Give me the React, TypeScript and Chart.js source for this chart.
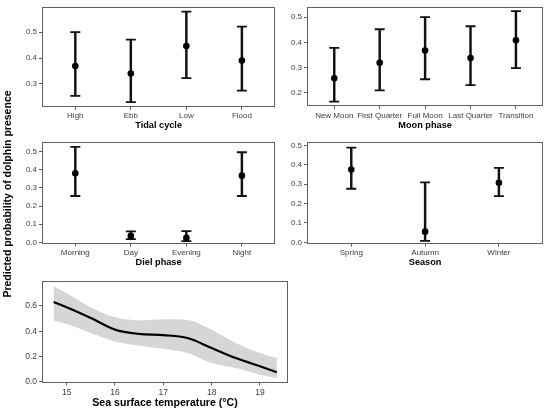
import React, { useEffect, useRef } from "react";
import { Chart, registerables } from "chart.js";

Chart.register(...registerables);

const FONT = "'Liberation Sans', Arial, Helvetica, sans-serif";

// ---------- Data ----------
const tidalCats = ["High", "Ebb", "Low", "Flood"];
const tidalMean = [0.369, 0.34, 0.446, 0.39];
const tidalLow = [0.254, 0.23, 0.322, 0.274];
const tidalHigh = [0.5, 0.471, 0.579, 0.521];
const tidalTicks = [0.3, 0.4, 0.5];

const moonCats = ["New Moon", "First Quarter", "Full Moon", "Last Quarter", "Transition"];
const moonMean = [0.258, 0.319, 0.368, 0.338, 0.408];
const moonLow = [0.165, 0.21, 0.254, 0.231, 0.298];
const moonHigh = [0.378, 0.452, 0.5, 0.464, 0.524];
const moonTicks = [0.2, 0.3, 0.4, 0.5];

const dielCats = ["Morning", "Day", "Evening", "Night"];
const dielMean = [0.381, 0.036, 0.025, 0.368];
const dielLow = [0.256, 0.018, 0.007, 0.256];
const dielHigh = [0.527, 0.061, 0.062, 0.497];
const dielTicks = [0.0, 0.1, 0.2, 0.3, 0.4, 0.5];

const seasonCats = ["Spring", "Autumn", "Winter"];
const seasonMean = [0.375, 0.055, 0.307];
const seasonLow = [0.276, 0.008, 0.238];
const seasonHigh = [0.488, 0.309, 0.384];
const seasonTicks = [0.0, 0.1, 0.2, 0.3, 0.4, 0.5];

const sstX = [14.73, 15.0, 15.5, 16.0, 16.5, 17.0, 17.5, 18.0, 18.5, 19.0, 19.35];
const sstFit = [0.631, 0.59, 0.505, 0.413, 0.379, 0.37, 0.347, 0.268, 0.189, 0.124, 0.077];
const sstUpper = [0.755, 0.7, 0.59, 0.51, 0.486, 0.495, 0.49, 0.413, 0.308, 0.229, 0.189];
const sstLower = [0.484, 0.458, 0.387, 0.32, 0.287, 0.262, 0.229, 0.15, 0.11, 0.058, 0.032];
const sstXTicks = [15, 16, 17, 18, 19];
const sstYTicks = [0.0, 0.2, 0.4, 0.6];

const yAxisTitle = "Predicted probability of dolphin presence";

// ---------- Helpers ----------
type Rect = { x: number; y: number; w: number; h: number };
type Plot = { l: number; t: number; r: number; b: number };

const LINE_GREY = "#606060";
const TICK_TEXT = "#3d3d3d";

const borderPlugin = {
  id: "panelBorder",
  afterDraw(chart: any) {
    const { ctx, chartArea } = chart;
    const { left, top, right, bottom } = chartArea;
    ctx.save();
    ctx.strokeStyle = LINE_GREY;
    ctx.lineWidth = 1;
    ctx.strokeRect(Math.round(left) + 0.5, Math.round(top) + 0.5, Math.round(right - left) - 1, Math.round(bottom - top) - 1);
    ctx.restore();
  },
};

function axisCommon(tickSize: number, pad: number) {
  return {
    offset: false,
    grid: {
      display: true,
      offset: false,
      drawOnChartArea: false,
      drawTicks: true,
      tickLength: 3,
      color: LINE_GREY,
      tickColor: LINE_GREY,
      lineWidth: 1,
    },
    border: { display: false },
    ticks: {
      font: { family: FONT, size: tickSize },
      color: TICK_TEXT,
      padding: pad,
      autoSkip: false,
      maxRotation: 0,
      minRotation: 0,
    },
  };
}

interface CatProps {
  canvas: Rect;
  plot: Plot;
  cats: string[];
  mean: number[];
  low: number[];
  high: number[];
  yMin: number;
  yMax: number;
  yTicks: number[];
  title: string;
  xPad: number;
  titlePad: number;
}

function CategoryPanel(p: CatProps) {
  const ref = useRef<HTMLCanvasElement | null>(null);
  useEffect(() => {
    if (!ref.current) return;
    const { canvas, plot } = p;
    const yw = plot.l - canvas.x;
    const xh = canvas.y + canvas.h - plot.b;
    const n = p.cats.length;
    const xc = axisCommon(8, p.xPad);
    const yc = axisCommon(8, 2);
    const chart = new Chart(ref.current, {
      type: "bar",
      data: {
        datasets: [
          {
            type: "scatter",
            data: p.mean.map((v, i) => ({ x: i + 1, y: v })),
            pointStyle: "circle",
            pointRadius: 3.3,
            pointBackgroundColor: "#000",
            pointBorderWidth: 0,
            showLine: false,
          } as any,
          {
            type: "scatter",
            data: [
              ...p.low.map((v, i) => ({ x: i + 1, y: v })),
              ...p.high.map((v, i) => ({ x: i + 1, y: v })),
            ],
            pointStyle: "line",
            pointRadius: 5,
            pointBorderColor: "#111",
            pointBorderWidth: 1.8,
            showLine: false,
          } as any,
          {
            type: "bar",
            data: p.cats.map((_, i) => ({ x: i + 1, y: [p.low[i], p.high[i]] })),
            backgroundColor: "#111",
            borderWidth: 0,
            barThickness: 1.8,
          } as any,
        ],
      },
      options: {
        animation: false,
        responsive: false,
        maintainAspectRatio: false,
        layout: {
          padding: {
            left: 0,
            top: plot.t - canvas.y,
            right: canvas.x + canvas.w - plot.r,
            bottom: 0,
          },
        },
        plugins: { legend: { display: false }, tooltip: { enabled: false } },
        scales: {
          x: {
            type: "linear",
            min: 0.4,
            max: n + 0.6,
            ...xc,
            ticks: {
              ...xc.ticks,
              callback: (v: any) => p.cats[Number(v) - 1] ?? "",
            },
            afterBuildTicks: (s: any) => {
              s.ticks = p.cats.map((_, i) => ({ value: i + 1 }));
            },
            afterFit: (s: any) => {
              s.height = xh;
            },
            title: {
              display: true,
              text: p.title,
              color: "#000",
              font: { family: FONT, size: 9.2, weight: "bold" },
              padding: { top: 0, bottom: p.titlePad },
            },
          },
          y: {
            type: "linear",
            min: p.yMin,
            max: p.yMax,
            ...yc,
            ticks: {
              ...yc.ticks,
              callback: (v: any) => Number(v).toFixed(1),
            },
            afterBuildTicks: (s: any) => {
              s.ticks = p.yTicks.map((v) => ({ value: v }));
            },
            afterFit: (s: any) => {
              s.width = yw;
            },
          },
        } as any,
      },
      plugins: [borderPlugin],
    });
    return () => chart.destroy();
  }, []);
  return (
    <canvas
      ref={ref}
      width={p.canvas.w}
      height={p.canvas.h}
      style={{ position: "absolute", left: p.canvas.x, top: p.canvas.y, width: p.canvas.w, height: p.canvas.h }}
    />
  );
}

function SSTPanel() {
  const ref = useRef<HTMLCanvasElement | null>(null);
  const canvas: Rect = { x: 20, y: 265, w: 272, h: 148 };
  const plot: Plot = { l: 42, t: 281, r: 288, b: 382.5 };
  useEffect(() => {
    if (!ref.current) return;
    const yw = plot.l - canvas.x;
    const xh = canvas.y + canvas.h - plot.b;
    const xc = axisCommon(8.5, 2);
    const yc = axisCommon(8.5, 2);
    const pts = (arr: number[]) => sstX.map((x, i) => ({ x, y: arr[i] }));
    const chart = new Chart(ref.current, {
      type: "line",
      data: {
        datasets: [
          {
            data: pts(sstFit),
            borderColor: "#000",
            borderWidth: 2.2,
            pointRadius: 0,
            cubicInterpolationMode: "monotone",
            fill: false,
          },
          {
            data: pts(sstUpper),
            borderWidth: 0,
            borderColor: "rgba(0,0,0,0)",
            backgroundColor: "#d6d6d6",
            pointRadius: 0,
            cubicInterpolationMode: "monotone",
            fill: "+1",
          },
          {
            data: pts(sstLower),
            borderWidth: 0,
            borderColor: "rgba(0,0,0,0)",
            pointRadius: 0,
            cubicInterpolationMode: "monotone",
            fill: false,
          },
        ] as any,
      },
      options: {
        animation: false,
        responsive: false,
        maintainAspectRatio: false,
        layout: {
          padding: {
            left: 0,
            top: plot.t - canvas.y,
            right: canvas.x + canvas.w - plot.r,
            bottom: 0,
          },
        },
        plugins: { legend: { display: false }, tooltip: { enabled: false } },
        scales: {
          x: {
            type: "linear",
            min: 14.49,
            max: 19.58,
            ...xc,
            ticks: { ...xc.ticks, callback: (v: any) => String(v) },
            afterBuildTicks: (s: any) => {
              s.ticks = sstXTicks.map((v) => ({ value: v }));
            },
            afterFit: (s: any) => {
              s.height = xh;
            },
            title: {
              display: true,
              text: "Sea surface temperature (°C)",
              color: "#000",
              font: { family: FONT, size: 10.6, weight: "bold" },
              padding: { top: 0, bottom: 3.2 },
            },
          },
          y: {
            type: "linear",
            min: -0.004,
            max: 0.797,
            ...yc,
            ticks: { ...yc.ticks, callback: (v: any) => Number(v).toFixed(1) },
            afterBuildTicks: (s: any) => {
              s.ticks = sstYTicks.map((v) => ({ value: v }));
            },
            afterFit: (s: any) => {
              s.width = yw;
            },
          },
        } as any,
      },
      plugins: [borderPlugin],
    });
    return () => chart.destroy();
  }, []);
  return (
    <canvas
      ref={ref}
      width={canvas.w}
      height={canvas.h}
      style={{ position: "absolute", left: canvas.x, top: canvas.y, width: canvas.w, height: canvas.h }}
    />
  );
}

function YTitle() {
  const ref = useRef<HTMLCanvasElement | null>(null);
  useEffect(() => {
    const c = ref.current;
    if (!c) return;
    const ctx = c.getContext("2d");
    if (!ctx) return;
    ctx.clearRect(0, 0, c.width, c.height);
    ctx.save();
    ctx.translate(8.5, 194);
    ctx.rotate(-Math.PI / 2);
    ctx.font = `bold 10.5px ${FONT}`;
    ctx.fillStyle = "#000";
    ctx.textAlign = "center";
    ctx.textBaseline = "middle";
    ctx.fillText(yAxisTitle, 0, 0);
    ctx.restore();
  }, []);
  return (
    <canvas
      ref={ref}
      width={20}
      height={413}
      aria-label={yAxisTitle}
      style={{ position: "absolute", left: 0, top: 0, width: 20, height: 413 }}
    />
  );
}

export default function App() {
  return (
    <div
      style={{
        position: "absolute",
        left: 0,
        top: 0,
        width: 550,
        height: 413,
        background: "#fff",
        overflow: "hidden",
        fontFamily: FONT,
      }}
    >
      <CategoryPanel
        canvas={{ x: 20, y: 0, w: 262, h: 135 }}
        plot={{ l: 42, t: 4, r: 279, b: 107 }}
        cats={tidalCats}
        mean={tidalMean}
        low={tidalLow}
        high={tidalHigh}
        yMin={0.211}
        yMax={0.5975}
        yTicks={tidalTicks}
        title="Tidal cycle"
        xPad={1}
        titlePad={3.9}
      />
      <CategoryPanel
        canvas={{ x: 285, y: 0, w: 265, h: 135 }}
        plot={{ l: 307, t: 5, r: 545, b: 106 }}
        cats={moonCats}
        mean={moonMean}
        low={moonLow}
        high={moonHigh}
        yMin={0.148}
        yMax={0.541}
        yTicks={moonTicks}
        title="Moon phase"
        xPad={2}
        titlePad={3.9}
      />
      <CategoryPanel
        canvas={{ x: 20, y: 135, w: 262, h: 135 }}
        plot={{ l: 42, t: 142, r: 279, b: 243.5 }}
        cats={dielCats}
        mean={dielMean}
        low={dielLow}
        high={dielHigh}
        yMin={-0.006}
        yMax={0.5536}
        yTicks={dielTicks}
        title="Diel phase"
        xPad={1.5}
        titlePad={2.1}
      />
      <CategoryPanel
        canvas={{ x: 285, y: 135, w: 265, h: 135 }}
        plot={{ l: 307, t: 142, r: 544, b: 243.7 }}
        cats={seasonCats}
        mean={seasonMean}
        low={seasonLow}
        high={seasonHigh}
        yMin={-0.007}
        yMax={0.517}
        yTicks={seasonTicks}
        title="Season"
        xPad={1.5}
        titlePad={2.1}
      />
      <SSTPanel />
      <YTitle />
    </div>
  );
}
